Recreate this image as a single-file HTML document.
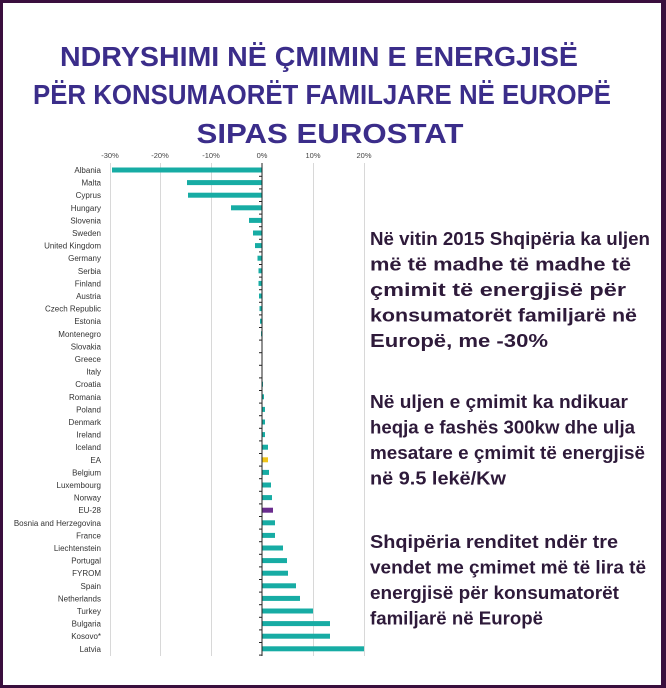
<!DOCTYPE html>
<html><head><meta charset="utf-8"><style>
html,body{margin:0;padding:0;background:#fff}
svg{display:block}
</style></head><body>
<svg width="666" height="688" xmlns="http://www.w3.org/2000/svg">
<rect x="0" y="0" width="666" height="688" fill="#3a0f3e"/>
<rect x="3" y="3" width="658" height="682" fill="#fff"/>
<g font-family="Liberation Sans, sans-serif" font-weight="bold" fill="#3b2d8a" font-size="28" text-anchor="middle">
<text x="319" y="66" textLength="518" lengthAdjust="spacingAndGlyphs">NDRYSHIMI NË ÇMIMIN E ENERGJISË</text>
<text x="322" y="104" textLength="578" lengthAdjust="spacingAndGlyphs">PËR KONSUMAORËT FAMILJARE NË EUROPË</text>
<text x="330" y="143" textLength="267" lengthAdjust="spacingAndGlyphs">SIPAS EUROSTAT</text>
</g>
<g font-family="Liberation Sans, sans-serif" font-weight="bold" fill="#2e1a3a" font-size="18">
<text x="370" y="245" textLength="280" lengthAdjust="spacingAndGlyphs">Në vitin 2015 Shqipëria ka uljen</text>
<text x="370" y="270.5" textLength="261" lengthAdjust="spacingAndGlyphs">më të madhe të madhe të</text>
<text x="370" y="296" textLength="256" lengthAdjust="spacingAndGlyphs">çmimit të energjisë për</text>
<text x="370" y="321.5" textLength="267" lengthAdjust="spacingAndGlyphs">konsumatorët familjarë në</text>
<text x="370" y="347" textLength="178" lengthAdjust="spacingAndGlyphs">Europë, me -30%</text>
<text x="370" y="408" textLength="258" lengthAdjust="spacingAndGlyphs">Në uljen e çmimit ka ndikuar</text>
<text x="370" y="433.5" textLength="265" lengthAdjust="spacingAndGlyphs">heqja e fashës 300kw dhe ulja</text>
<text x="370" y="459" textLength="275" lengthAdjust="spacingAndGlyphs">mesatare e çmimit të energjisë</text>
<text x="370" y="484.5" textLength="136" lengthAdjust="spacingAndGlyphs">në 9.5 lekë/Kw</text>
<text x="370" y="548" textLength="248" lengthAdjust="spacingAndGlyphs">Shqipëria renditet ndër tre</text>
<text x="370" y="573.5" textLength="276" lengthAdjust="spacingAndGlyphs">vendet me çmimet më të lira të</text>
<text x="370" y="599" textLength="249" lengthAdjust="spacingAndGlyphs">energjisë për konsumatorët</text>
<text x="370" y="624.5" textLength="173" lengthAdjust="spacingAndGlyphs">familjarë në Europë</text>
</g>
<g stroke="#d8d8d8" stroke-width="1">
<line x1="110.5" y1="163" x2="110.5" y2="656"/>
<line x1="160.5" y1="163" x2="160.5" y2="656"/>
<line x1="211.5" y1="163" x2="211.5" y2="656"/>
<line x1="313.5" y1="163" x2="313.5" y2="656"/>
<line x1="364.5" y1="163" x2="364.5" y2="656"/>
</g>
<g font-family="Liberation Sans, sans-serif" font-size="7.5" fill="#444" text-anchor="middle">
<text x="110" y="158">-30%</text><text x="160" y="158">-20%</text><text x="211" y="158">-10%</text>
<text x="262" y="158">0%</text><text x="313" y="158">10%</text><text x="364" y="158">20%</text>
</g>
<g id="bars"></g>
<line x1="262" y1="163" x2="262" y2="656" stroke="#222" stroke-width="1"/>
<g id="ticks" stroke="#222" stroke-width="1"></g>
<g id="labels" font-family="Liberation Sans, sans-serif" font-size="8" fill="#333" text-anchor="end"></g>
<script>
var d=[["Albania",-150],["Malta",-75],["Cyprus",-74],["Hungary",-31],["Slovenia",-13],["Sweden",-9],["United Kingdom",-7],["Germany",-4.5],["Serbia",-3.5],["Finland",-3.5],["Austria",-3],["Czech Republic",-2.5],["Estonia",-2],["Montenegro",-1],["Slovakia",-0.5],["Greece",0],["Italy",0.5],["Croatia",1],["Romania",2],["Poland",3],["Denmark",3],["Ireland",3],["Iceland",6],["EA",6],["Belgium",7],["Luxembourg",9],["Norway",10],["EU-28",11],["Bosnia and Herzegovina",13],["France",13],["Liechtenstein",21],["Portugal",25],["FYROM",26],["Spain",34],["Netherlands",38],["Turkey",51],["Bulgaria",68],["Kosovo*",68],["Latvia",102]];
var ns="http://www.w3.org/2000/svg",b=document.getElementById("bars"),l=document.getElementById("labels"),t=document.getElementById("ticks");
d.forEach(function(r,i){var y=170+i*12.6;
var e=document.createElementNS(ns,"rect");var v=r[1];
e.setAttribute("x",v<0?262+v:262);e.setAttribute("y",y-2.5);e.setAttribute("width",Math.abs(v));e.setAttribute("height",5);
e.setAttribute("fill",r[0]=="EA"?"#f0c419":r[0]=="EU-28"?"#6a2c8e":"#17aca4");b.appendChild(e);
var s=document.createElementNS(ns,"text");s.setAttribute("x",101);s.setAttribute("y",y+3);s.textContent=r[0];l.appendChild(s);
var k=document.createElementNS(ns,"line");k.setAttribute("x1",259);k.setAttribute("x2",262);k.setAttribute("y1",y+6.3);k.setAttribute("y2",y+6.3);t.appendChild(k);});
</script>
</svg>
</body></html>
